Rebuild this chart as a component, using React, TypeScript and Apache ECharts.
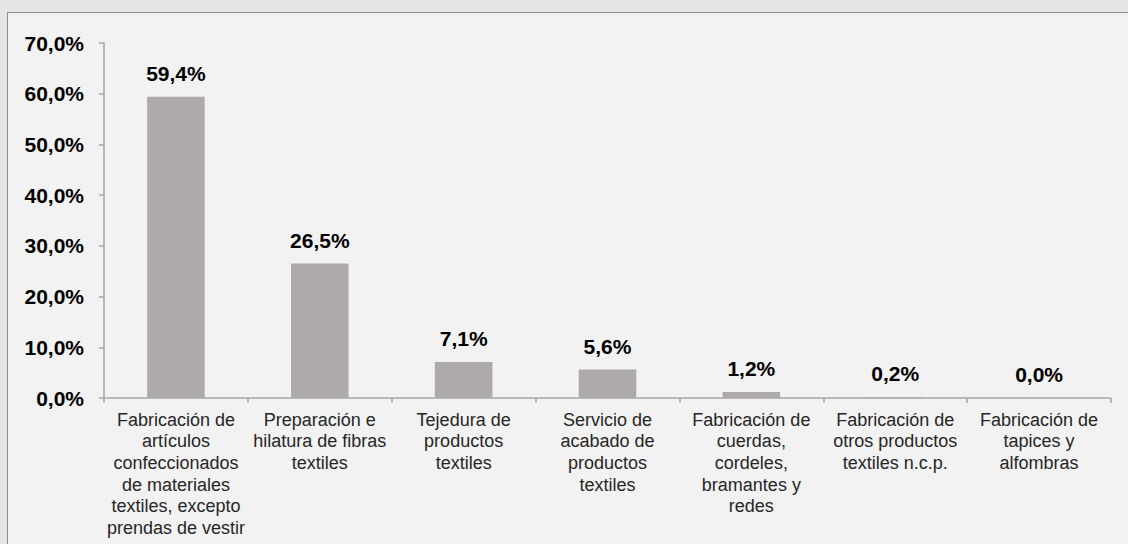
import React, { useEffect, useRef } from "react";
import * as echarts from "echarts";

const categories = [
  "Fabricación de\nartículos\nconfeccionados\nde materiales\ntextiles, excepto\nprendas de vestir",
  "Preparación e\nhilatura de fibras\ntextiles",
  "Tejedura de\nproductos\ntextiles",
  "Servicio de\nacabado de\nproductos\ntextiles",
  "Fabricación de\ncuerdas,\ncordeles,\nbramantes y\nredes",
  "Fabricación de\notros productos\ntextiles n.c.p.",
  "Fabricación de\ntapices y\nalfombras",
];
const values = [59.4, 26.5, 7.1, 5.6, 1.2, 0.2, 0.0];
const yTicks = [0, 10, 20, 30, 40, 50, 60, 70];

const fmt = (v: number) => v.toFixed(1).replace(".", ",") + "%";

export default function App() {
  const ref = useRef<HTMLDivElement>(null);
  useEffect(() => {
    if (!ref.current) return;
    const chart = echarts.init(ref.current, null, { renderer: "svg" });
    chart.setOption({
      animation: false,
      backgroundColor: "transparent",
      grid: { left: 96, right: 18, top: 30, bottom: 147, containLabel: false },
      xAxis: {
        type: "category",
        data: categories,
        axisLine: { show: true, lineStyle: { color: "#a6a6a6", width: 1.5 } },
        axisTick: { show: true, length: 5, lineStyle: { color: "#a6a6a6", width: 1.5 } },
        axisLabel: {
          interval: 0,
          margin: 11,
          fontFamily: "'Liberation Sans', Arial, sans-serif",
          fontSize: 18,
          lineHeight: 21.6,
          color: "#262626",
          align: "center",
        },
      },
      yAxis: {
        type: "value",
        min: 0,
        max: 70,
        interval: 10,
        splitLine: { show: false },
        axisLine: { show: true, lineStyle: { color: "#a6a6a6", width: 1.5 } },
        axisTick: { show: true, length: 5, lineStyle: { color: "#a6a6a6", width: 1.5 } },
        axisLabel: {
          margin: 20,
          fontFamily: "'Liberation Sans', Arial, sans-serif",
          fontSize: 21,
          fontWeight: "bold",
          color: "#000",
          formatter: (v: number) => (yTicks.includes(v) ? fmt(v) : ""),
        },
      },
      series: [
        {
          type: "bar",
          data: values,
          barCategoryGap: "60%",
          itemStyle: { color: "#aeaaaa" },
          label: {
            show: true,
            position: "top",
            distance: 13,
            fontFamily: "'Liberation Sans', Arial, sans-serif",
            fontSize: 21,
            fontWeight: "bold",
            color: "#000",
            formatter: (p: any) => fmt(p.value),
          },
        },
      ],
    });
    return () => chart.dispose();
  }, []);

  return (
    <div
      style={{
        position: "absolute",
        left: 0,
        top: 0,
        width: 1128,
        height: 544,
        background: "#e6e6e6",
        overflow: "hidden",
      }}
    >
      <div
        style={{
          position: "absolute",
          left: 7,
          top: 12,
          width: 1121,
          height: 532,
          background: "#f2f2f2",
          borderTop: "1.5px solid #8c8c8c",
          borderLeft: "1.5px solid #8c8c8c",
          boxSizing: "border-box",
        }}
      >
        <div ref={ref} style={{ position: "absolute", left: 0, top: 0, width: 1121, height: 532 }} />
      </div>
    </div>
  );
}
